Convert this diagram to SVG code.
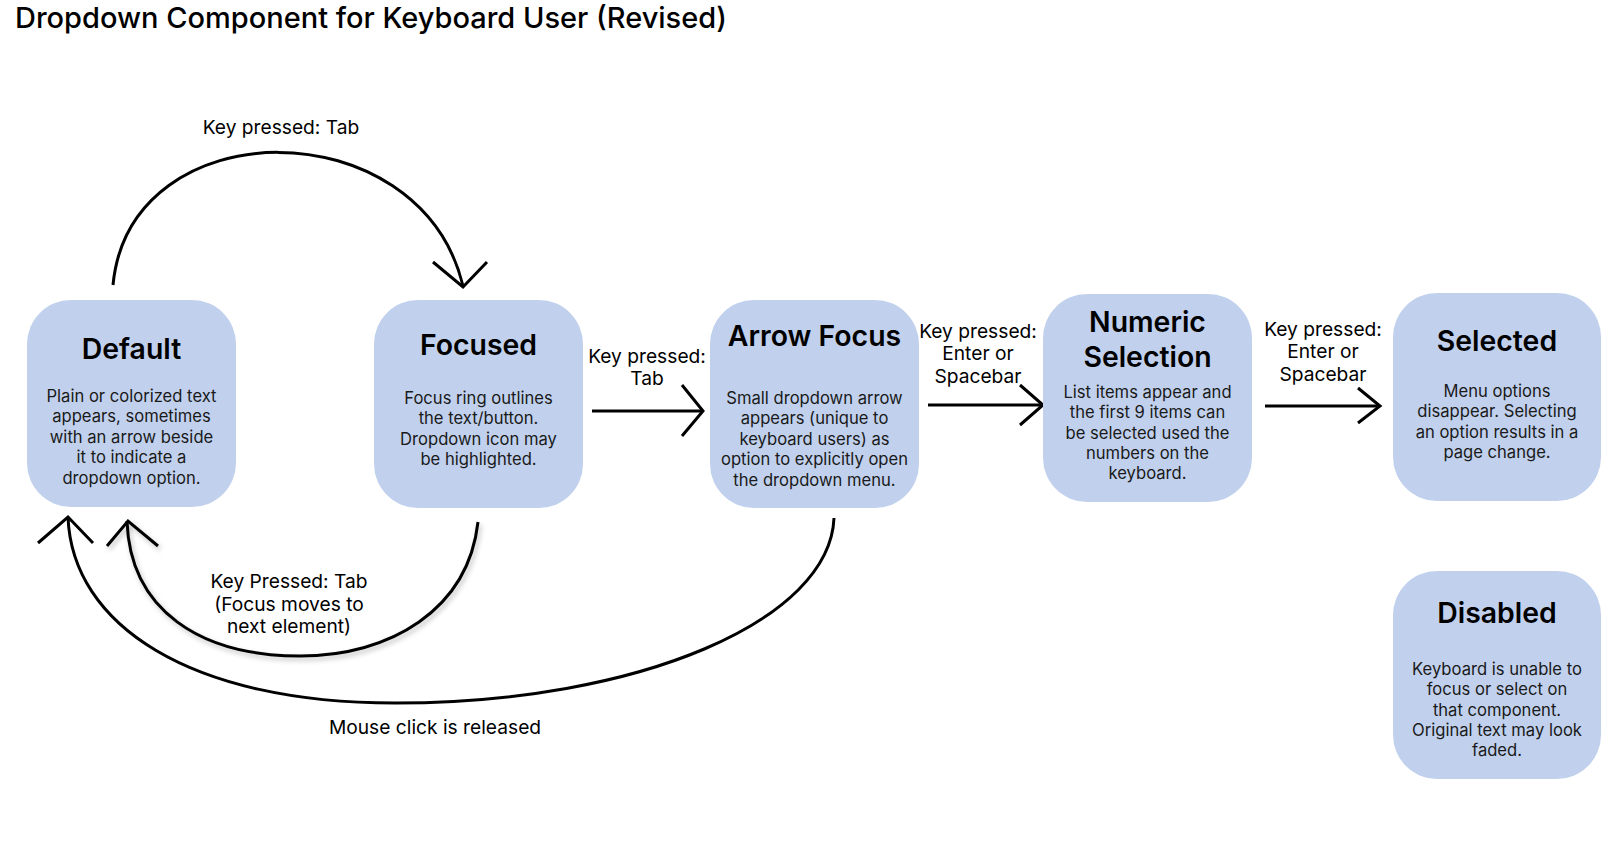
<svg xmlns="http://www.w3.org/2000/svg" width="1614" height="850" viewBox="0 0 1614 850">
<style>
  .box { fill: #c1d1ed; }
  .ttl { font-family: Inter, "Noto Sans", "Liberation Sans", sans-serif; font-weight: 600; font-size: 28.4px; fill: #000; text-anchor: middle; }
  .body { font-family: Inter, "Noto Sans", "Liberation Sans", sans-serif; font-size: 16.6px; fill: #1a1a1a; text-anchor: middle; }
  .lbl { font-family: Inter, "Noto Sans", "Liberation Sans", sans-serif; font-size: 19.2px; fill: #000; text-anchor: middle; }
  .head { font-family: Inter, "Noto Sans", "Liberation Sans", sans-serif; font-size: 29px; font-weight: 500; fill: #000; }
  .ln { fill: none; stroke: #000; stroke-width: 3; stroke-linecap: butt; stroke-linejoin: miter; }
</style>
<defs>
  <filter id="sh" x="-20%" y="-20%" width="140%" height="140%">
    <feDropShadow dx="2" dy="3" stdDeviation="2.5" flood-color="#000" flood-opacity="0.25"/>
  </filter>
</defs>
<rect width="1614" height="850" fill="#fff"/>
<text class="head" x="15" y="28">Dropdown Component for Keyboard User (Revised)</text>

<g id="connectors">
  <path class="ln" d="M113,285 C130,108 420,108 463,286"/>
  <polyline class="ln" points="433,262 463,287 487,262"/>
  <path class="ln" d="M592,411 H703"/>
  <polyline class="ln" points="682,385 703,411 682,436"/>
  <path class="ln" d="M928,405 H1043"/>
  <polyline class="ln" points="1020,385 1043,405 1020,425"/>
  <path class="ln" d="M1265,406 H1380"/>
  <polyline class="ln" points="1358,388 1380,406 1358,423"/>
  <g filter="url(#sh)">
    <path class="ln" d="M478,522 C468,610 390,656 300,656 C200,656 130,610 127,521"/>
    <polyline class="ln" points="107,546 128,521 158,546"/>
  </g>
  <path class="ln" d="M834,518 C830,620 640,703 395,703 C190,703 72,625 68,517"/>
  <polyline class="ln" points="38,543 68,517 93,543"/>
  <text class="lbl" x="281" y="134">Key pressed: Tab</text>
  <text class="lbl" x="647" y="363">Key pressed:</text>
  <text class="lbl" x="647" y="385">Tab</text>
  <text class="lbl" x="978" y="338">Key pressed:</text>
  <text class="lbl" x="978" y="360">Enter or</text>
  <text class="lbl" x="978" y="383">Spacebar</text>
  <text class="lbl" x="1323" y="336">Key pressed:</text>
  <text class="lbl" x="1323" y="358">Enter or</text>
  <text class="lbl" x="1323" y="381">Spacebar</text>
  <text class="lbl" x="289" y="588">Key Pressed: Tab</text>
  <text class="lbl" x="289" y="611">(Focus moves to</text>
  <text class="lbl" x="289" y="633">next element)</text>
  <text class="lbl" x="435" y="734">Mouse click is released</text>
</g>

<g id="default">
  <rect class="box" x="27" y="300" width="209" height="207" rx="44"/>
  <text class="ttl" x="131.5" y="359">Default</text>
  <text class="body" x="131.5" y="402">Plain or colorized text</text>
  <text class="body" x="131.5" y="422">appears, sometimes</text>
  <text class="body" x="131.5" y="443">with an arrow beside</text>
  <text class="body" x="131.5" y="463">it to indicate a</text>
  <text class="body" x="131.5" y="484">dropdown option.</text>
</g>

<g id="focused">
  <rect class="box" x="374" y="300" width="209" height="208" rx="44"/>
  <text class="ttl" x="478.5" y="355">Focused</text>
  <text class="body" x="478.5" y="404">Focus ring outlines</text>
  <text class="body" x="478.5" y="424">the text/button.</text>
  <text class="body" x="478.5" y="445">Dropdown icon may</text>
  <text class="body" x="478.5" y="465">be highlighted.</text>
</g>

<g id="arrow-focus">
  <rect class="box" x="710" y="300" width="209" height="208" rx="44"/>
  <text class="ttl" x="814.5" y="346">Arrow Focus</text>
  <text class="body" x="814.5" y="404">Small dropdown arrow</text>
  <text class="body" x="814.5" y="424">appears (unique to</text>
  <text class="body" x="814.5" y="445">keyboard users) as</text>
  <text class="body" x="814.5" y="465">option to explicitly open</text>
  <text class="body" x="814.5" y="486">the dropdown menu.</text>
</g>

<g id="numeric-selection">
  <rect class="box" x="1043" y="294" width="209" height="208" rx="44"/>
  <text class="ttl" x="1147.5" y="332">Numeric</text>
  <text class="ttl" x="1147.5" y="367">Selection</text>
  <text class="body" x="1147.5" y="398">List items appear and</text>
  <text class="body" x="1147.5" y="418">the first 9 items can</text>
  <text class="body" x="1147.5" y="439">be selected used the</text>
  <text class="body" x="1147.5" y="459">numbers on the</text>
  <text class="body" x="1147.5" y="479">keyboard.</text>
</g>

<g id="selected">
  <rect class="box" x="1393" y="293" width="208" height="208" rx="44"/>
  <text class="ttl" x="1497" y="351">Selected</text>
  <text class="body" x="1497" y="397">Menu options</text>
  <text class="body" x="1497" y="417">disappear. Selecting</text>
  <text class="body" x="1497" y="438">an option results in a</text>
  <text class="body" x="1497" y="458">page change.</text>
</g>

<g id="disabled">
  <rect class="box" x="1393" y="571" width="208" height="208" rx="44"/>
  <text class="ttl" x="1497" y="623">Disabled</text>
  <text class="body" x="1497" y="675">Keyboard is unable to</text>
  <text class="body" x="1497" y="695">focus or select on</text>
  <text class="body" x="1497" y="716">that component.</text>
  <text class="body" x="1497" y="736">Original text may look</text>
  <text class="body" x="1497" y="756">faded.</text>
</g>
</svg>
